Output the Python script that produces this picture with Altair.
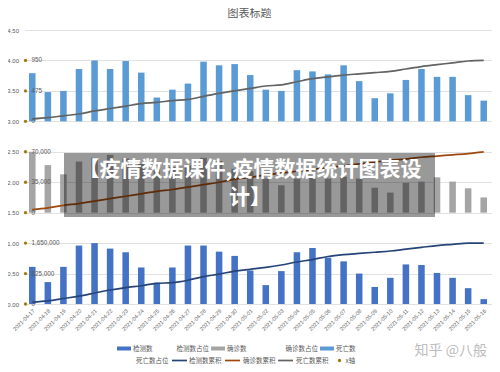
import altair as alt
import pandas as pd

dates = ["2021-04-17", "2021-04-18", "2021-04-19", "2021-04-20", "2021-04-21", "2021-04-22",
         "2021-04-23", "2021-04-24", "2021-04-25", "2021-04-26", "2021-04-27", "2021-04-28",
         "2021-04-29", "2021-04-30", "2021-05-01", "2021-05-02", "2021-05-03", "2021-05-04",
         "2021-05-05", "2021-05-06", "2021-05-07", "2021-05-08", "2021-05-09", "2021-05-10",
         "2021-05-11", "2021-05-12", "2021-05-13", "2021-05-14", "2021-05-15", "2021-05-16"]

# 检测数 (tests), secondary scale 0 - 1,650,000
tests = [1006500, 594000, 1006500, 1584000, 1650000, 1501500, 1402500, 990000, 577500, 990000,
         1584000, 1584000, 1419000, 1303500, 907500, 511500, 891000, 1402500, 1518000, 1254000,
         1155000, 825000, 462000, 709500, 1072500, 1056000, 841500, 709500, 429000, 132000]
tests_cum = [49500, 82500, 148500, 214500, 297000, 379500, 445500, 495000, 561000, 577500,
             643500, 742500, 808500, 891000, 940500, 990000, 1056000, 1138500, 1204500, 1287000,
             1336500, 1369500, 1402500, 1435500, 1485000, 1534500, 1584000, 1617000, 1650000, 1650000]

# 确诊数 (confirmed), secondary scale 0 - 70,000
confirmed = [70000, 54600, 44100, 58800, 63000, 66500, 62300, 56000, 50400, 52500,
             54600, 63000, 59500, 50400, 47600, 39200, 31500, 39200, 41300, 39200,
             41300, 39200, 28700, 23100, 34300, 35700, 40600, 35700, 28000, 17500]
confirmed_cum = [3500, 5600, 8400, 10500, 13300, 16100, 18900, 21700, 24500, 26600,
                 29400, 32200, 35000, 38500, 40600, 43400, 45500, 47600, 49700, 51800,
                 53900, 56000, 58100, 60200, 61600, 63700, 65100, 66500, 67900, 70000]

# 死亡数 (deaths), secondary scale 0 - 950
deaths = [751, 456, 475, 817, 950, 817, 941, 760, 371, 494, 589, 931, 874, 893, 722,
          494, 475, 798, 779, 732, 874, 627, 361, 437, 646, 817, 694, 694, 409, 323]
deaths_cum = [38, 57, 86, 114, 162, 200, 238, 276, 295, 323, 342, 390, 437, 475, 513,
              551, 570, 618, 665, 694, 722, 741, 760, 779, 817, 855, 884, 912, 941, 950]

# panel layout: series -> (base on primary axis, secondary-axis maximum)
panels = {"检测数": (0.0, 1650000), "确诊数": (1.5, 70000), "死亡数": (3.0, 950)}
axis_ticks = [0, 0.5, 1, 1.5, 2, 2.5, 3, 3.5, 4, 4.5]
xaxis_dots = [0, 0.5, 1, 1.5, 2, 2.5, 3, 3.5, 4]
xaxis_labels = ["0", "825,000", "1,650,000", "0", "35,000", "70,000", "0", "475", "950"]

series_domain = ["检测数", "确诊数", "死亡数", "检测数累积", "确诊数累积", "死亡数累积"]
series_range = ["#4472C4", "#A5A5A5", "#5B9BD5", "#264478", "#9E480E", "#636363"]

bar_rows, line_rows = [], []
for name, vals, cum in [("检测数", tests, tests_cum), ("确诊数", confirmed, confirmed_cum),
                        ("死亡数", deaths, deaths_cum)]:
    base, full = panels[name]
    for d, v, c in zip(dates, vals, cum):
        bar_rows.append({"date": d, "series": name, "value": v, "base": base, "full": full})
        line_rows.append({"date": d, "series": name + "累积", "value": c, "base": base, "full": full})
bars_df = pd.DataFrame(bar_rows)
lines_df = pd.DataFrame(line_rows)
dots_df = pd.DataFrame({"y": xaxis_dots, "label": xaxis_labels})
one = pd.DataFrame({"k": [0]})  # single row for decorations

NUMFONT = "Liberation Sans"
CJK = "Noto Sans CJK SC"
GREY = "#595959"

yscale = alt.Scale(domain=[0, 4.5], nice=False, zero=True)
yaxis = alt.Axis(values=axis_ticks, format=".2f", title=None)
xenc = alt.X("date:N", sort=dates, title=None,
             scale=alt.Scale(paddingInner=0.58, paddingOuter=0.29),
             axis=alt.Axis(labelAngle=-45, labelFontSize=5.5, labelColor=GREY, labelFont=NUMFONT,
                           labelPadding=4, ticks=False, domain=False, grid=False,
                           labelOverlap=False))
color = alt.Color("series:N", scale=alt.Scale(domain=series_domain, range=series_range), legend=None)

bars = alt.Chart(bars_df).transform_calculate(
    y0="datum.base", y1="datum.base + datum.value / datum.full"
).mark_bar().encode(
    x=xenc,
    y=alt.Y("y1:Q", scale=yscale, title=None, axis=yaxis),
    y2="y0:Q",
    color=color,
)

lines = alt.Chart(lines_df).transform_calculate(
    y1="datum.base + datum.value / datum.full"
).mark_line(interpolate="monotone", strokeWidth=1.7).encode(
    x=xenc, y=alt.Y("y1:Q", scale=yscale, title=None, axis=yaxis), color=color, detail="series:N"
)

dots = alt.Chart(dots_df).mark_circle(size=11, opacity=1, color="#9E7A10").encode(
    x=alt.value(1), y=alt.Y("y:Q", scale=yscale, title=None, axis=yaxis)
)
dot_labels = alt.Chart(dots_df).mark_text(
    align="left", baseline="middle", fontSize=6.3, font=NUMFONT, color=GREY
).encode(x=alt.value(7), y=alt.Y("y:Q", scale=yscale, title=None, axis=yaxis), text="label:N")

layers = [bars, lines, dots, dot_labels]

# overlay banner
layers.append(alt.Chart(one).mark_rect(color="black", opacity=0.4).encode(
    x=alt.value(39.5), x2=alt.value(410.5), y=alt.value(123), y2=alt.value(187)))
layers.append(alt.Chart(one).mark_text(
    font=CJK, fontSize=21, fontWeight="bold", color="white", align="center", baseline="middle"
).encode(x=alt.value(225.5), y=alt.value(140), text=alt.value("【疫情数据课件,疫情数据统计图表设")))
layers.append(alt.Chart(one).mark_text(
    font=CJK, fontSize=21, fontWeight="bold", color="white", align="center", baseline="middle"
).encode(x=alt.value(225.5), y=alt.value(168), text=alt.value("计】")))

# watermark
layers.append(alt.Chart(one).mark_text(
    font=CJK, fontSize=14, color="#BDBDBD", align="right", baseline="middle"
).encode(x=alt.value(462.5), y=alt.value(321), text=alt.value("知乎 @八般")))

# legend (drawn by hand to follow the original flow layout)
R1, R2 = 318.5, 330.5
legend_texts = [("检测数", 108.5, R1), ("检测数占位", 152, R1), ("确诊数", 202.5, R1),
                ("确诊数占位", 261, R1), ("死亡数", 311.5, R1),
                ("死亡数占位", 111.5, R2), ("检测数累积", 164.5, R2), ("确诊数累积", 218.5, R2),
                ("死亡数累积", 271.5, R2), ("x轴", 321, R2)]
for label, lx, ly in legend_texts:
    layers.append(alt.Chart(one).mark_text(
        font=CJK, fontSize=6.5, color=GREY, align="left", baseline="middle"
    ).encode(x=alt.value(lx), y=alt.value(ly), text=alt.value(label)))
legend_rects = [("#4472C4", 92.5), ("#A5A5A5", 186.5), ("#5B9BD5", 295.5)]
for col, lx in legend_rects:
    layers.append(alt.Chart(one).mark_rect(color=col).encode(
        x=alt.value(lx), x2=alt.value(lx + 14), y=alt.value(R1 - 2), y2=alt.value(R1 + 2)))
legend_lines = [("#264478", 147.5), ("#9E480E", 200.5), ("#636363", 253.5)]
for col, lx in legend_lines:
    layers.append(alt.Chart(one).mark_rule(color=col, strokeWidth=1.7).encode(
        x=alt.value(lx), x2=alt.value(lx + 15), y=alt.value(R2)))
layers.append(alt.Chart(one).mark_circle(size=11, opacity=1, color="#9E7A10").encode(
    x=alt.value(315), y=alt.value(R2)))

chart = alt.layer(*layers).properties(
    width=467, height=274,
    padding={"left": 16.5, "top": 22, "right": 0, "bottom": 60},
    autosize=alt.AutoSizeParams(type="none"),
    title=alt.TitleParams("图表标题", fontSize=11, color=GREY, font=CJK, fontWeight="normal",
                          anchor="middle", dx=-8.5, offset=8),
    background="white",
).configure_view(stroke=None).configure_axisY(
    labelFontSize=6, labelColor=GREY, labelFont=NUMFONT, labelPadding=6, ticks=False,
    domain=False, gridColor="#D9D9D9", gridWidth=0.8, labelOverlap=False
)

chart.save("out.html", embed_options={"renderer": "svg", "actions": False})
